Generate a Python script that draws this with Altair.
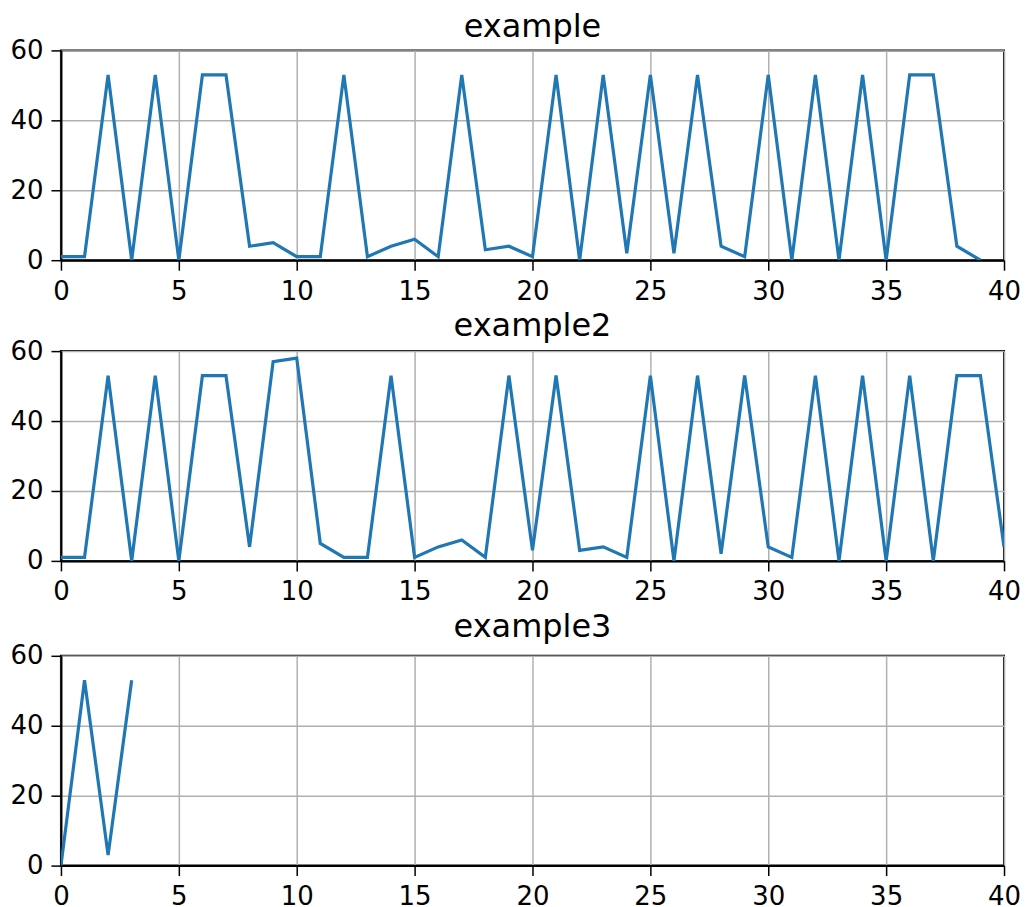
import altair as alt
import pandas as pd

titles = ["example", "example2", "example3"]

x1 = list(range(40))
y1 = [1, 1, 53, 0, 53, 0, 53, 53, 4, 5, 1, 1, 53, 1, 4, 6, 1, 53, 3, 4,
      1, 53, 0, 53, 2, 53, 2, 53, 4, 1, 53, 0, 53, 0, 53, 0, 53, 53, 4, 0]

x2 = list(range(41))
y2 = [1, 1, 53, 0, 53, 0, 53, 53, 4, 57, 58, 5, 1, 1, 53, 1, 4, 6, 1, 53,
      3, 53, 3, 4, 1, 53, 0, 53, 2, 53, 4, 1, 53, 0, 53, 0, 53, 0, 53, 53, 4]

x3 = [0, 1, 2, 3]
y3 = [0, 53, 3, 53]

x_ticks = [0, 5, 10, 15, 20, 25, 30, 35, 40]
y_ticks = [0, 20, 40, 60]


def panel(xs, ys, title, title_offset):
    df = pd.DataFrame({"x": xs, "y": ys})
    return (
        alt.Chart(df)
        .mark_line(color="#1f77b4", strokeWidth=3.2, clip=True)
        .encode(
            x=alt.X("x:Q", scale=alt.Scale(domain=[0, 40], nice=False, zero=False),
                    axis=alt.Axis(values=x_ticks, title=None, format="d")),
            y=alt.Y("y:Q", scale=alt.Scale(domain=[0, 60], nice=False),
                    axis=alt.Axis(values=y_ticks, title=None, format="d")),
        )
        .properties(
            width=944,
            height=210,
            title=alt.TitleParams(title, offset=title_offset),
        )
    )


chart = (
    alt.vconcat(
        panel(x1, y1, titles[0], -7),
        panel(x2, y2, titles[1], -5),
        panel(x3, y3, titles[2], -1),
        spacing=4,
    )
    .properties(padding={"left": 0, "top": 2, "right": 3, "bottom": 0})
    .configure_axis(
        labelFont="DejaVu Sans",
        labelFontSize=26,
        labelColor="black",
        tickColor="black",
        tickSize=10,
        tickWidth=1.5,
        domainColor="black",
        domainWidth=2,
        gridColor="#b0b0b0",
        gridWidth=1.5,
        labelPadding=8,
        labelFlush=False,
        labelOverlap=False,
    )
    .configure_view(stroke="black", strokeWidth=2)
    .configure_title(
        font="DejaVu Sans",
        fontSize=32,
        fontWeight="normal",
        color="black",
        anchor="middle",
        baseline="bottom",
    )
)

chart.save("out.html", embed_options={"renderer": "svg", "actions": False})
